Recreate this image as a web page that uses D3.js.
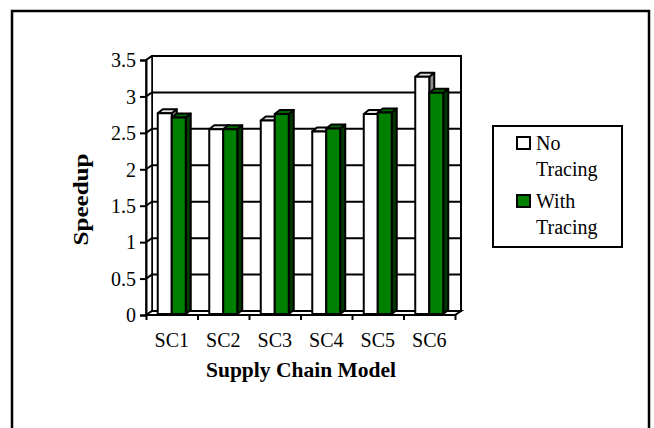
<!DOCTYPE html>
<html>
<head>
<meta charset="utf-8">
<script src="https://cdn.jsdelivr.net/npm/d3@7"></script>
<style>
  body { margin: 0; background: #fff; }
  svg { display: block; font-family: "Liberation Serif", "Times New Roman", serif; }
</style>
</head>
<body>
<script>
// data
const categories = ["SC1", "SC2", "SC3", "SC4", "SC5", "SC6"];
const series = ["No Tracing", "With Tracing"];
const noTracing = [2.77, 2.55, 2.67, 2.52, 2.76, 3.27];
const withTracing = [2.71, 2.55, 2.76, 2.56, 2.78, 3.05];
const yTicks = [0, 0.5, 1, 1.5, 2, 2.5, 3, 3.5];

const W = 654, H = 428;
const plotL = 146, plotR = 455, plotB = 315, plotT = 60;
const dx = 6, dy = -4;     // depth of the walls
const bdx = 5, bdy = -4;   // depth of the bars

const svg = d3.select("body").append("svg")
  .attr("width", W).attr("height", H);

// outer frame
svg.append("rect")
  .attr("x", 12).attr("y", 11).attr("width", 637).attr("height", 440)
  .attr("fill", "none").attr("stroke", "#000").attr("stroke-width", 2.5);

const y = d3.scaleLinear().domain([0, 3.5]).range([plotB, plotT]);
const x = d3.scaleBand().domain(categories).range([plotL, plotR]);
const xs = d3.scaleBand().domain(series).range([0, x.bandwidth()]).paddingOuter(0.84);
const xEdge = d3.scaleLinear().domain([0, categories.length]).range([plotL, plotR]);

const poly = pts => "M" + pts.map(p => p.join(",")).join("L") + "Z";

// back wall
svg.append("path")
  .attr("d", poly([[plotL + dx, y(3.5) + dy], [plotR + dx, y(3.5) + dy], [plotR + dx, plotB + dy], [plotL + dx, plotB + dy]]))
  .attr("fill", "#fff").attr("stroke", "#000").attr("stroke-width", 2);

// left wall
svg.append("path")
  .attr("d", poly([[plotL, y(3.5)], [plotL + dx, y(3.5) + dy], [plotL + dx, plotB + dy], [plotL, plotB]]))
  .attr("fill", "#fff").attr("stroke", "#000").attr("stroke-width", 1.5);

// gridlines on back and side wall
const grid = svg.append("g").attr("stroke", "#000").attr("stroke-width", 2).attr("fill", "none");
grid.selectAll("path")
  .data(yTicks.filter(t => t > 0))
  .join("path")
  .attr("d", t => `M${plotL},${y(t)}L${plotL + dx},${y(t) + dy}L${plotR + dx},${y(t) + dy}`);

// floor
svg.append("path")
  .attr("d", poly([[plotL, plotB], [plotR, plotB], [plotR + dx, plotB + dy], [plotL + dx, plotB + dy]]))
  .attr("fill", "#fff").attr("stroke", "#000").attr("stroke-width", 2);

// bars
const styles = [
  { front: "#ffffff", topc: "#e4e4e4", side: "#8c8c8c" },
  { front: "#008000", topc: "#006a00", side: "#003a00" }
];
const rows = categories.map((c, i) => [noTracing[i], withTracing[i]]);

const bars = svg.append("g")
  .attr("stroke", "#000").attr("stroke-width", 2).attr("stroke-linejoin", "round");

categories.forEach((c, i) => {
  series.forEach((s, j) => {
    const v = rows[i][j];
    const x0 = x(c) + xs(s), x1 = x0 + xs.bandwidth();
    const yt = y(v), yb = plotB - 1;
    const st = styles[j];
    const g = bars.append("g");
    g.append("path").attr("fill", st.side)
      .attr("d", poly([[x1, yt], [x1 + bdx, yt + bdy], [x1 + bdx, yb + bdy], [x1, yb]]));
    g.append("path").attr("fill", st.topc)
      .attr("d", poly([[x0, yt], [x0 + bdx, yt + bdy], [x1 + bdx, yt + bdy], [x1, yt]]));
    g.append("rect").attr("fill", st.front)
      .attr("x", x0).attr("y", yt).attr("width", x1 - x0).attr("height", yb - yt);
  });
});

// y axis
const yAxis = svg.append("g")
  .attr("transform", `translate(${plotL},0)`)
  .call(d3.axisLeft(y).tickValues(yTicks).tickSize(6).tickPadding(4).tickFormat(d3.format("")));
yAxis.select(".domain").attr("stroke-width", 2);
yAxis.selectAll(".tick line").attr("stroke-width", 2);
yAxis.selectAll("text").attr("font-size", 20).attr("fill", "#000")
  .attr("font-family", "Liberation Serif").attr("dy", "0.34em");

// x axis: ticks at category boundaries, labels at centres
const xTickAxis = svg.append("g")
  .attr("transform", `translate(0,${plotB})`)
  .call(d3.axisBottom(xEdge).tickValues(d3.range(categories.length + 1)).tickSize(5).tickFormat(""));
xTickAxis.select(".domain").remove();
xTickAxis.selectAll(".tick line").attr("stroke-width", 2);

const xAxis = svg.append("g")
  .attr("transform", `translate(0,${plotB})`)
  .call(d3.axisBottom(x).tickSize(0).tickPadding(18));
xAxis.select(".domain").remove();
xAxis.selectAll("text").attr("font-size", 20).attr("fill", "#000")
  .attr("font-family", "Liberation Serif");

// axis titles
svg.append("text")
  .attr("x", 301).attr("y", 377)
  .attr("text-anchor", "middle")
  .attr("font-size", 21.5).attr("font-weight", "bold")
  .text("Supply Chain Model");

svg.append("text")
  .attr("transform", "translate(88,199.5) rotate(-90)")
  .attr("text-anchor", "middle")
  .attr("font-size", 21).attr("font-weight", "bold")
  .attr("textLength", 92).attr("lengthAdjust", "spacingAndGlyphs")
  .text("Speedup");

// legend
const legend = svg.append("g");
legend.append("rect")
  .attr("x", 493).attr("y", 126).attr("width", 129).attr("height", 121)
  .attr("fill", "#fff").attr("stroke", "#000").attr("stroke-width", 2);

const legendLines = [["No", "Tracing"], ["With", "Tracing"]];
const legendTop = [137, 195];
series.forEach((s, j) => {
  legend.append("rect")
    .attr("x", 517).attr("y", legendTop[j]).attr("width", 13).attr("height", 12)
    .attr("fill", styles[j].front).attr("stroke", "#000").attr("stroke-width", 2);
  legend.append("text")
    .attr("x", 536).attr("y", legendTop[j] + 13)
    .attr("font-size", 20)
    .selectAll("tspan")
    .data(legendLines[j])
    .join("tspan")
    .attr("x", 536)
    .attr("dy", (d, k) => k === 0 ? 0 : 26)
    .text(d => d);
});
</script>
</body>
</html>
